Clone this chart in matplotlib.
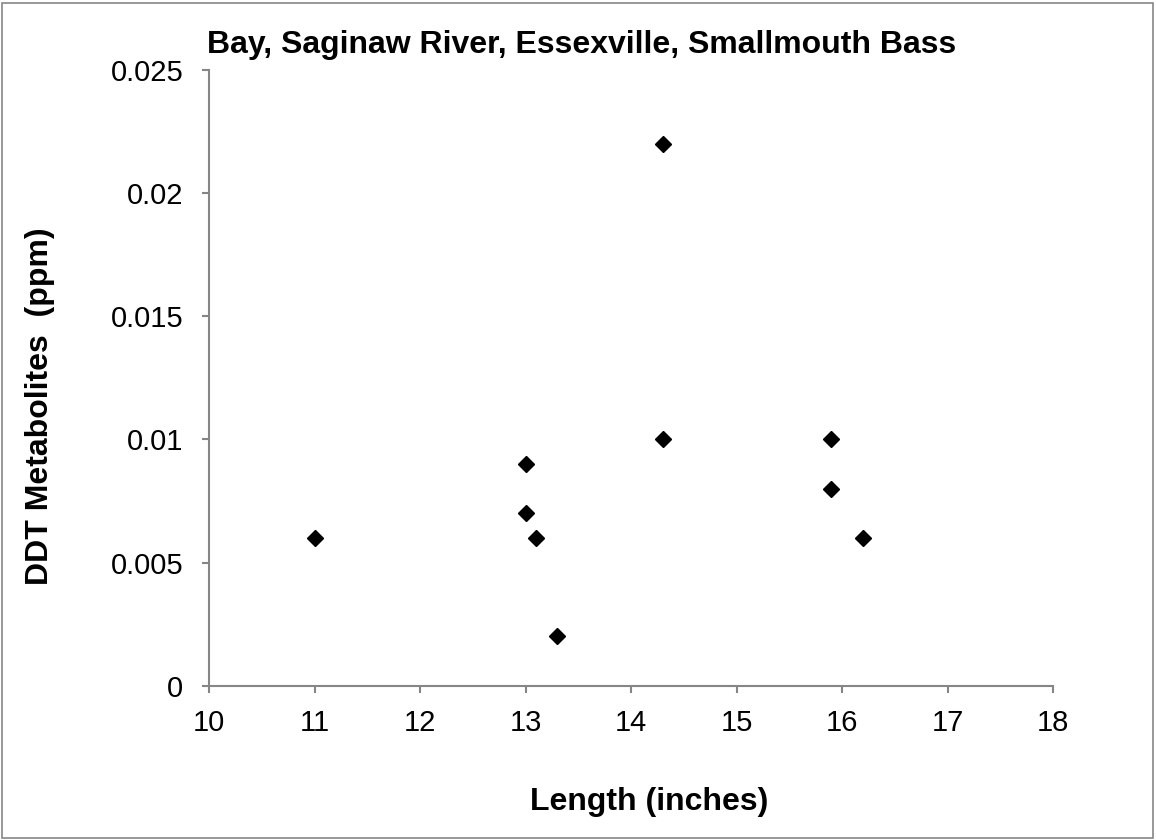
import matplotlib.pyplot as plt
from matplotlib.patches import Rectangle

plt.rcParams['font.family'] = ['Liberation Sans', 'DejaVu Sans']

# data
length_in = [11.0, 13.0, 13.0, 13.1, 13.3, 14.3, 14.3, 15.9, 15.9, 16.2]
ddt_ppm = [0.006, 0.009, 0.007, 0.006, 0.002, 0.022, 0.010, 0.010, 0.008, 0.006]
x_ticks = [10, 11, 12, 13, 14, 15, 16, 17, 18]
y_ticks = [0, 0.005, 0.01, 0.015, 0.02, 0.025]
y_labels = ['0', '0.005', '0.01', '0.015', '0.02', '0.025']

gray = '#868686'

fig = plt.figure(figsize=(11.56, 8.4), dpi=100)
ax = fig.add_axes([0.1808, 0.1837, 0.7301, 0.7330])

ax.plot(length_in, ddt_ppm, linestyle='none', marker='D', markersize=8.5,
        color='black', clip_on=False)

ax.set_xlim(10, 18)
ax.set_ylim(0, 0.025)
ax.set_xticks(x_ticks)
ax.set_xticklabels([str(t) for t in x_ticks])
ax.set_yticks(y_ticks)
ax.set_yticklabels(y_labels)

for side in ['top', 'right']:
    ax.spines[side].set_visible(False)
for side in ['left', 'bottom']:
    ax.spines[side].set_color(gray)
    ax.spines[side].set_linewidth(1.5)

ax.tick_params(direction='out', length=5, width=1.5, color=gray,
               labelsize=21, labelcolor='black')
ax.tick_params(axis='x', pad=12)
ax.tick_params(axis='y', pad=13.5)

# title and axis labels placed like the original
fig.text(207 / 1156, 1 - 53 / 840, 'Bay, Saginaw River, Essexville, Smallmouth Bass',
         fontsize=23, fontweight='bold', ha='left', va='baseline')
fig.text(530 / 1156, 1 - 810 / 840, 'Length (inches)',
         fontsize=23, fontweight='bold', ha='left', va='baseline')
fig.text(40 / 1156, 1 - 406 / 840, 'DDT Metabolites  (ppm)',
         fontsize=23, fontweight='bold', ha='center', va='center', rotation=90)

# thin border around the whole chart
fig.patches.append(Rectangle((0.002, 0.002), 0.995, 0.995, transform=fig.transFigure,
                             fill=False, edgecolor=gray, linewidth=1.2))

fig.savefig('out.png', dpi=100)
